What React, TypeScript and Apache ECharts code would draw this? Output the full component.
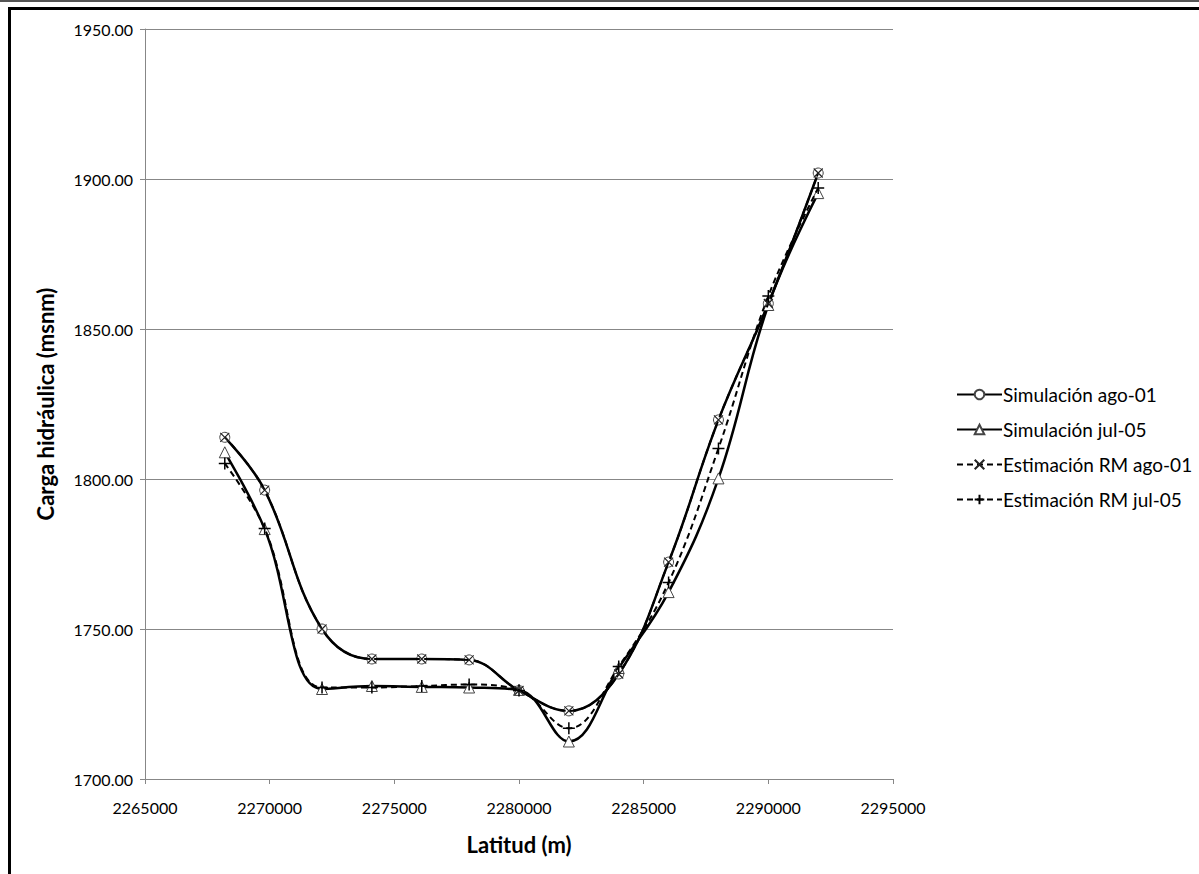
import React, { useEffect, useRef } from "react";
import * as echarts from "echarts";

const latitudes = [2268200, 2269800, 2272100, 2274100, 2276100, 2278000, 2280000, 2282000, 2284000, 2286000, 2288000, 2290000, 2292000];
const simAgo01 = [1813.9, 1796.3, 1750.0, 1740.0, 1740.0, 1739.7, 1729.5, 1722.7, 1735.0, 1772.3, 1819.7, 1858.5, 1902.0];
const simJul05 = [1808.9, 1783.3, 1730.0, 1731.0, 1730.7, 1730.5, 1729.7, 1712.5, 1737.0, 1762.3, 1800.2, 1858.0, 1895.3];
const rmAgo01 = [1813.9, 1796.3, 1750.0, 1740.0, 1740.0, 1739.7, 1729.5, 1722.7, 1735.0, 1772.3, 1819.7, 1858.5, 1902.0];
const rmJul05 = [1805.2, 1783.5, 1730.5, 1730.5, 1731.0, 1731.5, 1729.5, 1716.9, 1737.5, 1765.5, 1810.2, 1861.0, 1897.0];

const seriesNames = ["Simulación ago-01", "Simulación jul-05", "Estimación RM ago-01", "Estimación RM jul-05"];
const xTitle = "Latitud (m)";
const yTitle = "Carga hidráulica (msnm)";

const FONT = "Lato, 'Open Sans', sans-serif";

const pair = (ys: number[]) => latitudes.map((x, i) => [x, ys[i]]);

export default function App() {
  const ref = useRef<HTMLDivElement>(null);
  useEffect(() => {
    if (!ref.current) return;
    const chart = echarts.init(ref.current, null, { renderer: "svg" });
    const markerStyle = { color: "#ffffff", borderColor: "#444", borderWidth: 1 };
    chart.setOption({
      animation: false,
      backgroundColor: "#ffffff",
      textStyle: { fontFamily: FONT },
      grid: { left: 145, top: 29, right: 306, bottom: 95, containLabel: false },
      graphic: [
        { type: "rect", shape: { x: 9.5, y: 8.5, width: 1300, height: 1000 }, style: { fill: "none", stroke: "#000", lineWidth: 3 } },
        { type: "rect", shape: { x: 0, y: 0, width: 1199, height: 2 }, style: { fill: "#555", stroke: "none" } },
      ],
      legend: {
        orient: "vertical",
        left: 951,
        top: 380,
        itemWidth: 45,
        itemHeight: 12,
        itemGap: 16,
        textStyle: { fontFamily: FONT, fontSize: 19, color: "#000", padding: [0, 0, 0, -4] },
        data: seriesNames,
      },
      xAxis: {
        type: "value",
        min: 2265000,
        max: 2295000,
        interval: 5000,
        name: xTitle,
        nameLocation: "middle",
        nameGap: 54,
        nameTextStyle: { fontFamily: FONT, fontSize: 22, fontWeight: "bold", color: "#000" },
        axisLine: { show: true, lineStyle: { color: "#878787", width: 1 } },
        axisTick: { show: true, length: 5, lineStyle: { color: "#878787" } },
        axisLabel: { fontSize: 16, color: "#000", margin: 20, fontFamily: FONT, formatter: (v: number) => String(v) },
        splitLine: { show: false },
      },
      yAxis: {
        type: "value",
        min: 1700,
        max: 1950,
        interval: 50,
        name: yTitle,
        nameLocation: "middle",
        nameGap: 89,
        nameTextStyle: { fontFamily: FONT, fontSize: 22, fontWeight: "bold", color: "#000" },
        axisLine: { show: true, lineStyle: { color: "#878787", width: 1 } },
        axisTick: { show: true, length: 5, lineStyle: { color: "#878787" } },
        axisLabel: { fontSize: 16, color: "#000", margin: 12, fontFamily: FONT, formatter: (v: number) => v.toFixed(2) },
        splitLine: { show: true, lineStyle: { color: "#878787", width: 1 } },
      },
      series: [
        {
          name: seriesNames[0],
          type: "line",
          data: pair(simAgo01),
          smooth: 0.4,
          symbol: "circle",
          symbolSize: 10,
          lineStyle: { color: "#000", width: 2.5, type: "solid" },
          itemStyle: markerStyle,
          z: 3,
        },
        {
          name: seriesNames[1],
          type: "line",
          data: pair(simJul05),
          smooth: 0.4,
          symbol: "triangle",
          symbolSize: 11,
          lineStyle: { color: "#000", width: 2.5, type: "solid" },
          itemStyle: markerStyle,
          z: 3,
        },
        {
          name: seriesNames[2],
          type: "line",
          data: pair(rmAgo01),
          smooth: 0.4,
          symbol: "path://M0,0L10,10M10,0L0,10",
          symbolSize: 9,
          lineStyle: { color: "#000", width: 2, type: [6, 4] },
          itemStyle: { color: "none", borderColor: "#222", borderWidth: 1.2 },
          z: 4,
        },
        {
          name: seriesNames[3],
          type: "line",
          data: pair(rmJul05),
          smooth: 0.4,
          symbol: "path://M5,0L5,10M0,5L10,5",
          symbolSize: 12,
          lineStyle: { color: "#000", width: 2, type: [6, 4] },
          itemStyle: { color: "none", borderColor: "#000", borderWidth: 1.5 },
          z: 4,
        },
      ],
    });
    return () => chart.dispose();
  }, []);
  return <div ref={ref} style={{ position: "absolute", left: 0, top: 0, width: 1199, height: 874 }} />;
}
